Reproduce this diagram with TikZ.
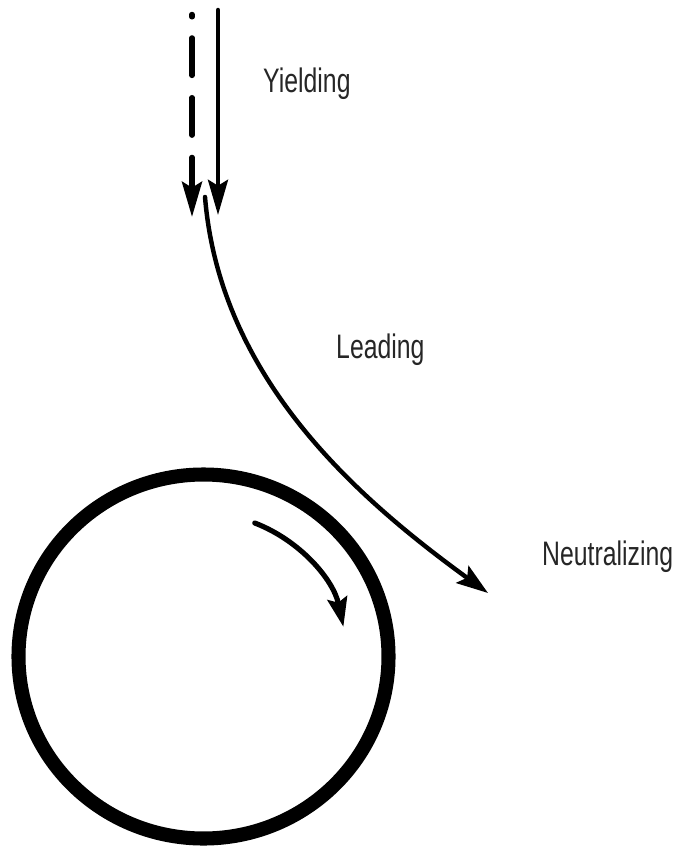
\documentclass[tikz,border=0pt]{standalone}
\usepackage{fontspec}
\setmainfont{Liberation Sans}[FakeStretch=0.73]
\usetikzlibrary{arrows.meta}
\begin{document}
\begin{tikzpicture}[x=0.03cm,y=-0.03cm,
    flow/.style={line width=3.8pt,line cap=round,-{Stealth[length=30pt,width=17pt,inset=5pt]}},
    rim/.style={line width=12pt},
    spin/.style={line width=4.4pt,line cap=round,-{Stealth[length=25pt,width=17pt,inset=4pt]}},
    word/.style={anchor=base west,inner sep=0pt,text=black!85,font=\fontsize{29}{34}\selectfont}]
    \useasboundingbox (0,0) rectangle (674,848);
    \coordinate (dashtop) at (192,14.5);
    \coordinate (dashtip) at (192,217);
    \coordinate (soltop) at (218,10);
    \coordinate (soltip) at (218,215);
    \coordinate (bendtop) at (205,197);
    \coordinate (bendtip) at (488,593);
    \coordinate (wheel) at (203.5,656.5);
    \draw[flow,line width=4.6pt,dash pattern=on 2pt off 18pt on 32pt off 19pt on 32pt off 19pt on 90pt] (dashtop) -- (dashtip);
    \draw[flow] (soltop) -- (soltip);
    \draw[flow,-{Stealth[length=27pt,width=18pt,inset=5pt]}] (bendtop) .. controls (220,380) and (360,500) .. (bendtip);
    \draw[rim] (wheel) ellipse [x radius=185,y radius=182];
    \draw[spin] ([shift={(-69:143)}]wheel) arc [start angle=-69,end angle=-12,radius=143];
    \node[word] (yield) at (263,93) {Yielding};
    \node[word] (lead) at (336,358) {Leading};
    \node[word] (neutral) at (542,565) {Neutralizing};
\end{tikzpicture}
\end{document}
